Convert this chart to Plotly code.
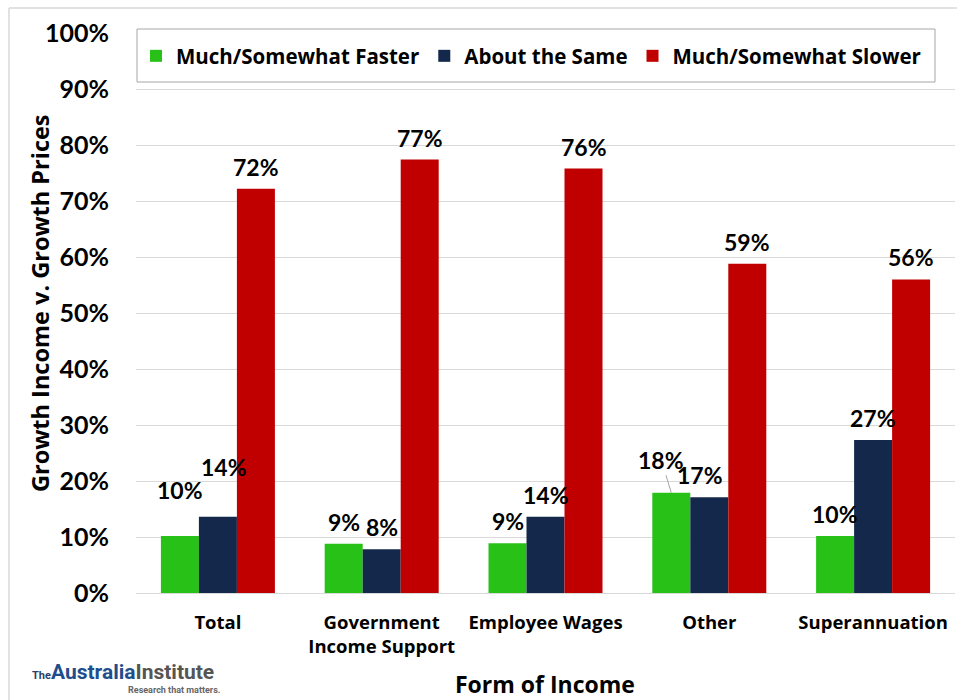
import plotly.graph_objects as go

categories = ["Total", "Government<br>Income Support", "Employee Wages", "Other", "Superannuation"]
series_names = ["Much/Somewhat Faster", "About the Same", "Much/Somewhat Slower"]
faster = [0.102, 0.088, 0.089, 0.179, 0.102]
same = [0.136, 0.078, 0.136, 0.171, 0.273]
slower = [0.722, 0.774, 0.758, 0.588, 0.560]
y_ticks = [0, 0.1, 0.2, 0.3, 0.4, 0.5, 0.6, 0.7, 0.8, 0.9, 1.0]
y_ticktext = ["0%", "10%", "20%", "30%", "40%", "50%", "60%", "70%", "80%", "90%", "100%"]

colors = ["#27c117", "#13284a", "#c00000"]
series_values = [faster, same, slower]

# layout geometry (pixels)
W, H = 957, 700
L, R, T, B = 136, 2, 33, 107
pw, ph = W - L - R, H - T - B

def px_x(p):
    return (p - L) / pw

def px_y(p):
    return (H - B - p) / ph

FONT = "Lato"
WIDE = "Open Sans"

fig = go.Figure()
for name, vals, col in zip(series_names, series_values, colors):
    fig.add_trace(go.Bar(
        x=categories, y=vals, name=name, marker_color=col,
        marker_line_width=0,
    ))

# data labels: per-series pixel offset of bar center, and custom label offsets
bar_px = 38
series_shift = [-bar_px, 0, bar_px]
label_offsets = {
    (0, 0): (0, 46), (0, 1): (6, 50),
    (3, 1): (-9, 22),
}
for si, vals in enumerate(series_values):
    for ci, v in enumerate(vals):
        txt = f"{round(v * 100):.0f}%"
        if (ci, si) == (3, 0):
            fig.add_annotation(
                x=categories[ci], y=v, xshift=series_shift[si], text=txt,
                showarrow=True, arrowhead=0, arrowwidth=1, arrowcolor="#a6a6a6",
                ax=-10, ay=-33, standoff=0,
                font=dict(family=FONT, size=23, color="black", weight="bold"),
            )
            continue
        dx, dy = label_offsets.get((ci, si), (0, 22))
        fig.add_annotation(
            x=categories[ci], y=v, xshift=series_shift[si] + dx, yshift=dy,
            text=txt, showarrow=False,
            font=dict(family=FONT, size=23, color="black", weight="bold"),
        )

# axis titles
fig.add_annotation(
    xref="paper", yref="paper", x=px_x(40), y=px_y(303), textangle=-90,
    text="Growth Income v. Growth Prices", showarrow=False,
    xanchor="center", yanchor="middle",
    font=dict(family=WIDE, size=23.5, color="black", weight="bold"),
)
fig.add_annotation(
    xref="paper", yref="paper", x=px_x(545), y=px_y(684),
    text="Form of Income", showarrow=False, xanchor="center", yanchor="middle",
    font=dict(family=WIDE, size=23, color="black", weight="bold"),
)

# logo
fig.add_annotation(
    xref="paper", yref="paper", x=px_x(30), y=px_y(672), xanchor="left", yanchor="middle",
    text="<span style='font-size:11px;color:#2b3f6b'>The</span>"
         "<span style='color:#1f4e8c;font-weight:bold'>Australia</span>"
         "<span style='color:#555555'>Institute</span>",
    showarrow=False, font=dict(family="Roboto, sans-serif", size=21),
)
fig.add_annotation(
    xref="paper", yref="paper", x=px_x(222), y=px_y(690), xanchor="right", yanchor="middle",
    text="Research that matters.", showarrow=False,
    font=dict(family="Roboto, sans-serif", size=9, color="#666666"),
)

# frame lines
fig.add_shape(type="line", xref="paper", yref="paper", x0=px_x(9), x1=px_x(957),
              y0=px_y(8), y1=px_y(8), line=dict(color="#d9d9d9", width=1.5))
fig.add_shape(type="line", xref="paper", yref="paper", x0=px_x(9), x1=px_x(9),
              y0=px_y(8), y1=px_y(700), line=dict(color="#d9d9d9", width=1.5))
# legend box
fig.add_shape(type="rect", xref="paper", yref="paper", layer="above",
              x0=px_x(137), x1=px_x(935), y0=px_y(82), y1=px_y(29),
              fillcolor="white", line=dict(color="#a6a6a6", width=1))

fig.update_layout(
    width=W, height=H,
    margin=dict(l=L, r=R, t=T, b=B, autoexpand=False),
    paper_bgcolor="white", plot_bgcolor="white",
    barmode="group", bargap=0.304, bargroupgap=0,
    font=dict(family=FONT, color="black", weight="bold"),
    showlegend=True,
    legend=dict(
        orientation="h", x=px_x(136), y=px_y(56), xanchor="left", yanchor="middle",
        bgcolor="rgba(0,0,0,0)", borderwidth=0,
        font=dict(family=WIDE, size=20.5, color="black", weight="bold"),
        itemwidth=30, tracegroupgap=0,
    ),
    xaxis=dict(
        showgrid=False, showline=False, ticks="",
        tickfont=dict(family=WIDE, size=18.5, color="black", weight="bold"),
        ticklabelstandoff=16,
    ),
    yaxis=dict(
        range=[0, 1.0], tickvals=y_ticks, ticktext=y_ticktext,
        showgrid=True, gridcolor="#d9d9d9", gridwidth=1,
        zeroline=True, zerolinecolor="#d9d9d9", zerolinewidth=1,
        showline=False, ticks="",
        tickfont=dict(family=FONT, size=25, color="black", weight="bold"),
        ticklabelstandoff=26,
    ),
)

fig.write_html("out.html")
